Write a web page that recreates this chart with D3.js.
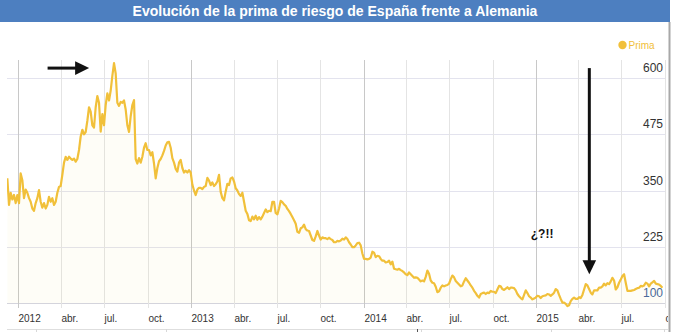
<!DOCTYPE html>
<html>
<head>
<meta charset="utf-8">
<script src="https://cdn.jsdelivr.net/npm/d3@7"></script>
<style>
  html, body { margin: 0; padding: 0; background: #fff; }
  svg { display: block; font-family: "Liberation Sans", Arial, Helvetica, sans-serif; }
</style>
</head>
<body>
<svg id="chart" width="674" height="332"></svg>
<script>
// ---- data ---------------------------------------------------------------
const title = "Evolución de la prima de riesgo de España frente a Alemania";
const seriesName = "Prima";

// Spread (basis points), sampled every 5082 minutes (~3.5 days)
const seriesStart = new Date(2011, 11, 8, 19, 0);
const stepMinutes = 5082;
const prima = [
  377,318,345,330,340,322,340,322,388,373, 333,352,345,333,325,310,305,322,333,351,
  325,312,322,310,318,336,325,333,318,325, 345,358,360,385,412,425,418,425,421,418,
  421,414,420,440,470,485,475,480,505,535, 525,495,490,535,560,545,481,520,495,540,
  566,550,572,605,633,610,545,538,547,545, 550,530,495,480,515,540,551,
  420,410,422,412,425,445,455,440,440,428, 435,410,377,400,415,420,428,438,450,457,
  458,445,422,412,398,392,412,418,400,390, 394,390,395,390,363,350,340,352,356,356,
  353,358,360,378,372,362,368,360,364,370, 385,
  347,333,328,348,365,362,377,379,370,355, 350,342,338,345,325,305,298,284,282,292,
  286,294,285,291,286,292,
  300,308,302,305,304,325,325,300,297,310, 327,324,319,316,309,304,298,291,284,276,
  258,256,266,268,274,264,261,260,250,240, 238,248,260,250,241,246,244,244,242,245,
  242,240,235,235,238,237,239,243,241,246, 242,235,230,224,224,228,233,234,228,210,
  198,198,197,198,201,214,212,202,205,204, 198,194,194,190,191,194,186,192,
  176,175,174,176,173,171,168,164,162,168, 164,160,156,157,156,152,148,150,148,158,
  172,165,150,145,144,136,124,126,134,139, 137,139,140,143,153,161,157,149,145,141,
  137,139,148,155,150,145,139,134,127,122, 116,112,120,122,123,120,123,122,127,125,
  125,122,130,138,137,131,129,132,135,131, 134,134,133,128,120,115,111,108,
  118,128,122,115,112,108,110,112,116,115, 111,115,116,117,120,119,116,119,123,131,
  128,118,109,101,101,98,93,95,104,109, 112,109,109,113,111,118,130,142,139,131,
  123,119,128,128,128,134,134,137,143,139, 144,142,148,156,150,130,135,145,152,160,
  164,145,127,127,127,128,129,131,133,134, 138,137,139,145,143,137,143,146,149,143,
  142,141,138,134
];

const yTicks = [100, 225, 350, 475, 600];
const monthNames = { 3: "abr.", 6: "jul.", 9: "oct." };

// Annotations, placed in data space (date, value)
const arrows = [
  { from: [new Date(2012, 2, 3), 622], to: [new Date(2012, 4, 30), 622] },
  { from: [new Date(2015, 3, 24), 622], to: [new Date(2015, 3, 24), 164] }
];
const notes = [
  { text: "¿?!!", at: [new Date(2014, 11, 21), 245] }
];

// ---- layout -------------------------------------------------------------
const W = 674, H = 332;
const plot = { left: 7, right: 665, top: 60, bottom: 303 };
const colors = {
  bar: "#4d7fc0", line: "#f1c03a", gridY: "#e3e3ee", gridMonth: "#e4e4e4",
  gridYear: "#c8c8c8", axis: "#d4d4dc", label: "#333", border: "#a8a8a8"
};

const svg = d3.select("#chart");

const x = d3.scaleTime()
  .domain([new Date(2012, 0, 1), new Date(2015, 9, 1)])
  .range([18.3, 664.9]);
const y = d3.scaleLinear().domain([100, 600]).range([303, 78]);

const points = prima.map((v, i) => ({
  date: d3.timeMinute.offset(seriesStart, i * stepMinutes),
  value: v
}));

// title bar
svg.append("rect").attr("x", 0).attr("y", 0).attr("width", 670).attr("height", 22)
  .attr("fill", colors.bar);
svg.append("text").attr("x", 335).attr("y", 15.5).attr("text-anchor", "middle")
  .attr("fill", "#fff").attr("font-weight", "bold").attr("font-size", 14)
  .text(title);

// right frame border and lower panel edge
svg.append("line").attr("x1", 669.5).attr("x2", 669.5).attr("y1", 22).attr("y2", H)
  .attr("stroke", colors.border).attr("stroke-width", 2);
svg.append("line").attr("x1", plot.left).attr("x2", 668).attr("y1", 329.5).attr("y2", 329.5)
  .attr("stroke", "#dedede");
[36, 166, 421, 551, 664].forEach(px => {
  svg.append("line").attr("x1", px + 0.5).attr("x2", px + 0.5).attr("y1", 329).attr("y2", H)
    .attr("stroke", "#d8d8d8");
});
svg.append("line").attr("x1", 417.5).attr("x2", 417.5).attr("y1", 329).attr("y2", H)
  .attr("stroke", "#555");

// horizontal grid
const gY = svg.append("g");
gY.selectAll("line").data(yTicks).join("line")
  .attr("x1", plot.left).attr("x2", plot.right)
  .attr("y1", d => Math.round(y(d)) + 0.5).attr("y2", d => Math.round(y(d)) + 0.5)
  .attr("stroke", d => d === 100 ? colors.axis : colors.gridY);

// vertical grid + x axis
const xTicks = d3.timeMonth.every(3).range(new Date(2012, 0, 1), new Date(2015, 9, 2));
const fmt = d => d.getMonth() === 0 ? String(d.getFullYear()) : monthNames[d.getMonth()];

svg.append("clipPath").attr("id", "clipx")
  .append("rect").attr("x", 0).attr("y", 0).attr("width", 668).attr("height", H);

const gX = svg.append("g").attr("clip-path", "url(#clipx)");
const tick = gX.selectAll("g").data(xTicks).join("g")
  .attr("transform", d => `translate(${Math.round(x(d)) + 0.5},0)`);
tick.append("line").attr("y1", plot.top).attr("y2", 308)
  .attr("stroke", d => d.getMonth() === 0 ? colors.gridYear : colors.gridMonth);
tick.append("text").attr("x", 0).attr("y", 322)
  .attr("font-size", 10).attr("fill", colors.label)
  .text(fmt);

// series
svg.append("clipPath").attr("id", "clipplot")
  .append("rect").attr("x", plot.left).attr("y", plot.top - 5)
  .attr("width", plot.right - plot.left).attr("height", 260);

const gS = svg.append("g").attr("clip-path", "url(#clipplot)");
gS.append("path").datum(points)
  .attr("fill", colors.line).attr("fill-opacity", 0.04)
  .attr("d", d3.area().x(d => x(d.date)).y0(y(100)).y1(d => y(d.value)));
gS.append("path").datum(points)
  .attr("fill", "none").attr("stroke", colors.line).attr("stroke-width", 2.2)
  .attr("stroke-linejoin", "round")
  .attr("d", d3.line().x(d => x(d.date)).y(d => y(d.value)));

// y labels (right side, above gridlines)
svg.append("g").selectAll("text").data(yTicks).join("text")
  .attr("x", 663).attr("y", d => y(d) - 6).attr("text-anchor", "end")
  .attr("font-size", 12).attr("fill", d => d === 100 ? "#4a6a9a" : colors.label)
  .text(d => d);

// legend
svg.append("circle").attr("cx", 622.5).attr("cy", 45).attr("r", 4.2).attr("fill", colors.line);
svg.append("text").attr("x", 628.5).attr("y", 49).attr("font-size", 10)
  .attr("fill", colors.line).text(seriesName);

// annotations
const gA = svg.append("g");
arrows.forEach(a => {
  const x1 = x(a.from[0]), y1 = y(a.from[1]);
  const x2 = x(a.to[0]), y2 = y(a.to[1]);
  const len = Math.hypot(x2 - x1, y2 - y1);
  const ux = (x2 - x1) / len, uy = (y2 - y1) / len;
  const head = 14, half = 6.8;
  const bx = x2 - ux * head, by = y2 - uy * head;
  gA.append("line").attr("x1", x1).attr("y1", y1).attr("x2", bx + ux).attr("y2", by + uy)
    .attr("stroke", "#111").attr("stroke-width", 3);
  gA.append("path")
    .attr("d", `M${x2},${y2}L${bx - uy * half},${by + ux * half}L${bx + uy * half},${by - ux * half}Z`)
    .attr("fill", "#111");
});
notes.forEach(n => {
  gA.append("text").attr("x", x(n.at[0])).attr("y", y(n.at[1]))
    .attr("font-size", 12).attr("font-weight", "bold").attr("fill", "#111")
    .text(n.text);
});
</script>
</body>
</html>
